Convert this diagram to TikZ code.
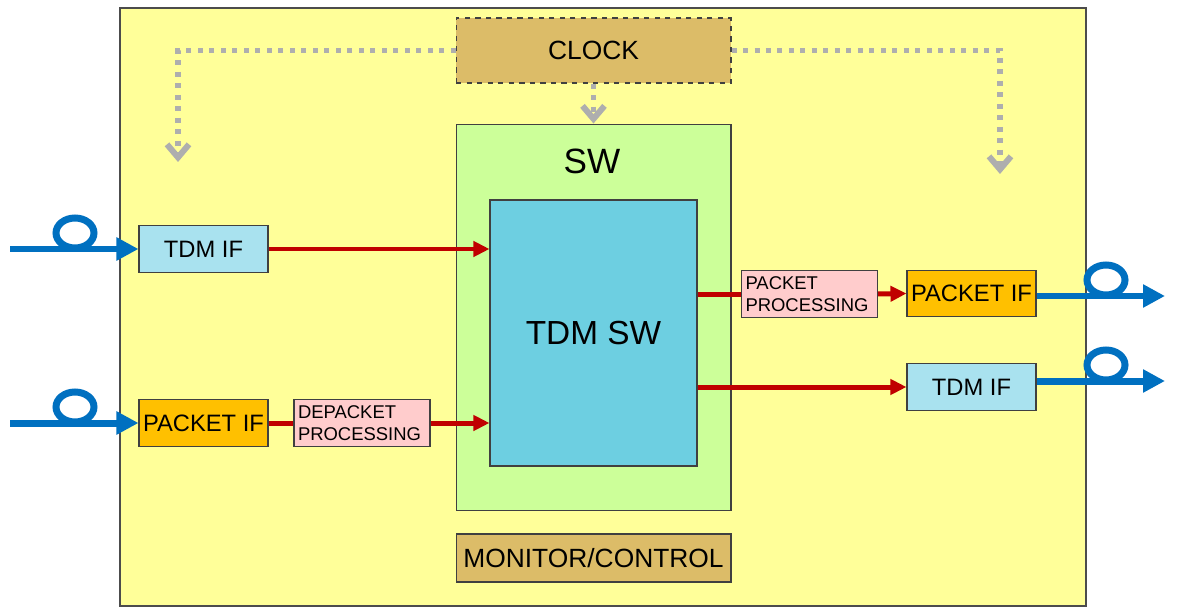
\documentclass[tikz,border=0pt]{standalone}
\usepackage{fontspec}
\setmainfont{Liberation Sans}
\usepackage{xcolor}
\usetikzlibrary{arrows.meta, positioning}

\definecolor{bgyellow}{HTML}{FFFF99}
\definecolor{tanbox}{HTML}{DCBC68}
\definecolor{swgreen}{HTML}{CCFF99}
\definecolor{swblue}{HTML}{6DCFE1}
\definecolor{iflight}{HTML}{A9E2EF}
\definecolor{pktorange}{HTML}{FFC000}
\definecolor{procpink}{HTML}{FFCCCC}
\definecolor{sigred}{HTML}{C00000}
\definecolor{fiberblue}{HTML}{0070C0}
\definecolor{clkgray}{HTML}{AEAEAE}

\begin{document}
\begin{tikzpicture}[x=0.02cm, y=-0.02cm,
    box/.style={draw=black!75, line width=0.6pt, inner sep=0pt, align=center},
    ifbox/.style={box, minimum width=2.58cm, minimum height=0.93cm,
        font=\fontsize{13.5}{15}\selectfont},
    procbox/.style={box, fill=procpink, text width=2.56cm, inner xsep=0.08cm,
        minimum height=0.93cm, align=left, font=\fontsize{10.5}{12.5}\selectfont},
    sig/.style={draw=sigred, line width=0.1cm},
    sigarrow/.style={sig, -{Triangle[length=0.32cm, width=0.3cm]}},
    fiber/.style={draw=fiberblue, line width=0.14cm},
    fiberarrow/.style={fiber, -{Triangle[length=0.44cm, width=0.44cm]}},
    clkline/.style={draw=clkgray, line width=0.11cm, dash pattern=on 0.1cm off 0.13cm,
        -{Straight Barb[length=0.26cm, width=0.44cm, line width=0.12cm]}}]

    \useasboundingbox (0,0) rectangle (1181,608);

    % =================================================================
    % 1. KHUNG NEN VA TOA DO CHINH
    % =================================================================
    \fill[bgyellow] (120,8) rectangle (1086,606);
    \draw[black!70, line width=0.85pt] (120,8) rectangle (1086,606);

    \coordinate (clkL) at (178,162);
    \coordinate (clkR) at (1000,174);
    \coordinate (inA) at (10,249);
    \coordinate (inB) at (10,423);
    \coordinate (outA) at (1165,296);
    \coordinate (outB) at (1165,381);

    % =================================================================
    % 2. CAC KHOI CHINH
    % =================================================================
    \node[box, fill=tanbox, dashed, minimum width=5.5cm, minimum height=1.3cm,
        font=\fontsize{15}{17}\selectfont] (clock) at (593.5,50.5) {CLOCK};
    \node[box, fill=swgreen, minimum width=5.5cm, minimum height=7.74cm] (sw) at (593.5,317.5) {};
    \node[font=\fontsize{20}{22}\selectfont] (swlabel) at (592,161) {SW};
    \node[box, fill=swblue, minimum width=4.14cm, minimum height=5.32cm,
        font=\fontsize{19}{21}\selectfont] (tdmsw) at (593.5,333) {TDM SW};
    \node[box, fill=tanbox, minimum width=5.5cm, minimum height=0.96cm,
        font=\fontsize{15}{17}\selectfont] (monitor) at (593.5,558) {MONITOR/CONTROL};

    % Giao dien vao
    \node[ifbox, fill=iflight] (tdmL) at (203.5,249) {TDM IF};
    \node[ifbox, fill=pktorange] (pktL) at (203.5,423) {PACKET IF};
    \node[procbox] (depkt) at (362,423) {DEPACKET\\PROCESSING};

    % Giao dien ra
    \node[procbox] (pproc) at (809.5,294) {PACKET\\PROCESSING};
    \node[ifbox, fill=pktorange] (pktR) at (971.5,293.5) {PACKET IF};
    \node[ifbox, fill=iflight] (tdmR) at (971.5,387) {TDM IF};

    % =================================================================
    % 3. DUONG DONG HO (NET CHAM)
    % =================================================================
    \draw[clkline] (clock.west) -| (clkL);
    \draw[clkline] (clock.east) -| (clkR);
    \draw[clkline] (clock.south) -- (sw.north);

    % =================================================================
    % 4. DUONG TIN HIEU
    % =================================================================
    \draw[sigarrow] (tdmL.east) -- (tdmL.east -| tdmsw.west);
    \draw[sig] (pktL.east) -- (depkt.west);
    \draw[sigarrow] (depkt.east) -- (depkt.east -| tdmsw.west);
    \draw[sig] (pproc.west -| tdmsw.east) -- (pproc.west);
    \draw[sigarrow] (pproc.east) -- (pktR.west);
    \draw[sigarrow] (tdmR.west -| tdmsw.east) -- (tdmR.west);

    % =================================================================
    % 5. SOI QUANG VAO / RA
    % =================================================================
    \draw[fiberarrow] (inA) -- (tdmL.west);
    \draw[fiber] (75,233) ellipse [x radius=0.38cm, y radius=0.3cm];
    \draw[fiberarrow] (inB) -- (pktL.west);
    \draw[fiber] (75,407) ellipse [x radius=0.38cm, y radius=0.3cm];

    \draw[fiberarrow] (pktR.east |- outA) -- (outA);
    \draw[fiber] (1106,280) ellipse [x radius=0.38cm, y radius=0.3cm];
    \draw[fiberarrow] (tdmR.east |- outB) -- (outB);
    \draw[fiber] (1106,365) ellipse [x radius=0.38cm, y radius=0.3cm];

\end{tikzpicture}
\end{document}
